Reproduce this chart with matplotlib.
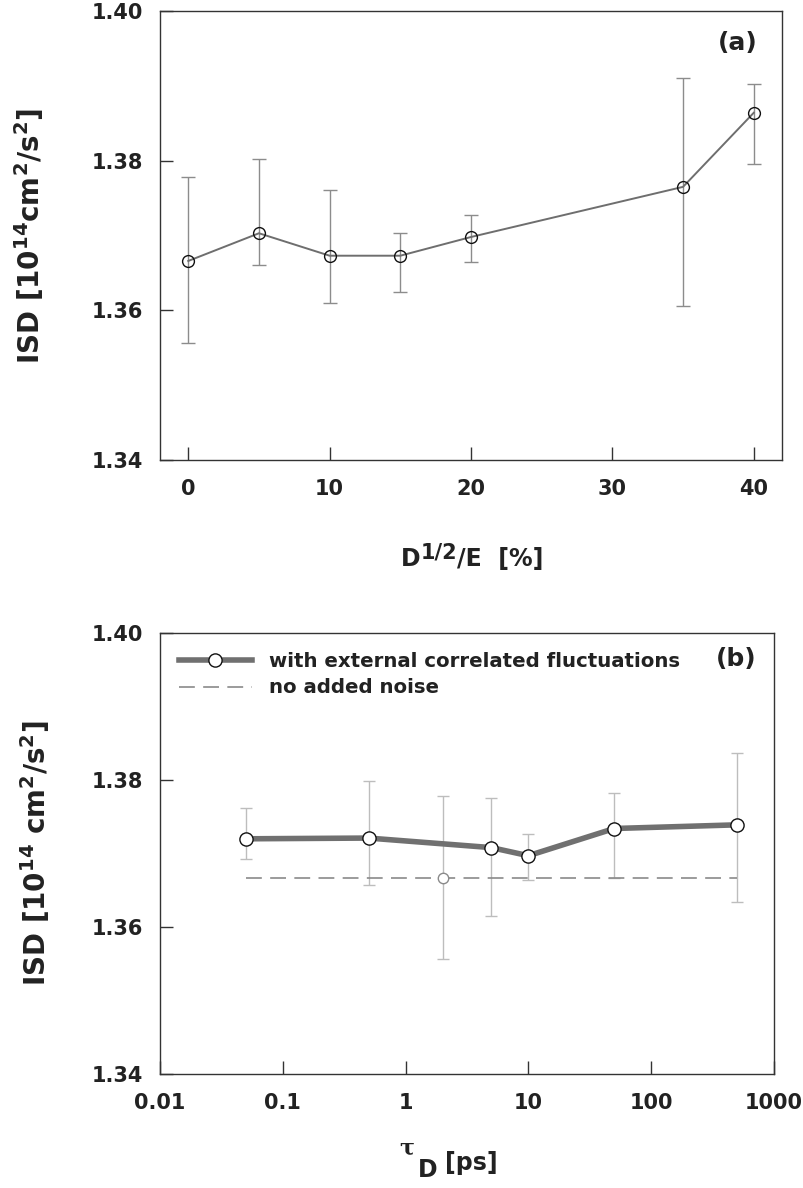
import matplotlib
matplotlib.use("Agg")
import matplotlib.pyplot as plt
import numpy as np

# ---------------- data ----------------
# panel (a)
noise_pct = [0, 5, 10, 15, 20, 35, 40]
isd_a = [1.3666, 1.3703, 1.3673, 1.3673, 1.3698, 1.3765, 1.3864]
isd_a_hi = [1.3778, 1.3802, 1.3761, 1.3704, 1.3727, 1.3911, 1.3902]
isd_a_lo = [1.3557, 1.3660, 1.3610, 1.3625, 1.3664, 1.3606, 1.3795]

# panel (b)
tau_d = [0.05, 0.5, 5, 10, 50, 500]
isd_b = [1.3720, 1.3721, 1.3708, 1.3697, 1.3734, 1.3739]
isd_b_hi = [1.3762, 1.3799, 1.3776, 1.3727, 1.3782, 1.3837]
isd_b_lo = [1.3693, 1.3657, 1.3615, 1.3664, 1.3667, 1.3634]

tau_ref = [2]
isd_ref = [1.3666]
isd_ref_hi = [1.3778]
isd_ref_lo = [1.3556]
ref_span = [0.05, 500]

yticks = [1.34, 1.36, 1.38, 1.40]
xticks_a = [0, 10, 20, 30, 40]
xticks_b = [0.01, 0.1, 1, 10, 100, 1000]
xticklabels_b = ["0.01", "0.1", "1", "10", "100", "1000"]

# ---------------- style ----------------
plt.rcParams["font.family"] = ["DejaVu Sans"]
plt.rcParams["font.weight"] = "bold"
plt.rcParams["mathtext.fontset"] = "custom"
plt.rcParams["mathtext.rm"] = "DejaVu Sans:bold"
plt.rcParams["mathtext.bf"] = "DejaVu Sans:bold"
plt.rcParams["mathtext.it"] = "DejaVu Serif"
plt.rcParams["mathtext.default"] = "rm"

TXT = "#222222"
SPINE = "#333333"

fig = plt.figure(figsize=(8.04, 11.88), dpi=100)
W, H = 804, 1188
renderer = fig.canvas.get_renderer()

def px_axes(l, t, r, b):
    return [l / W, 1 - b / H, (r - l) / W, (b - t) / H]

def text_seq(x0, baseline, pieces):
    """Place pieces of text one after another, in pixel coords."""
    x = x0
    for s, size, dy, fam in pieces:
        t = fig.text(x / W, 1 - (baseline - dy) / H, s, fontsize=size,
                     fontweight="bold" if fam == "DejaVu Sans" else "normal",
                     family=fam, color=TXT, ha="left", va="baseline")
        bb = t.get_window_extent(renderer)
        x += bb.width

ax1 = fig.add_axes(px_axes(160, 11, 782, 460))
ax2 = fig.add_axes(px_axes(160, 633, 774, 1074))

for ax in (ax1, ax2):
    for s in ax.spines.values():
        s.set_color(SPINE)
        s.set_linewidth(1.0)
    ax.tick_params(direction="in", length=9.7, width=1.0, color=SPINE,
                   labelsize=15, labelcolor=TXT, top=False, right=False)
    ax.tick_params(axis="x", pad=14)
    ax.tick_params(axis="y", pad=12)
    ax.set_ylim(1.34, 1.40)
    ax.set_yticks(yticks)
    ax.set_yticklabels([f"{v:.2f}" for v in yticks])
    for lab in ax.get_xticklabels() + ax.get_yticklabels():
        lab.set_fontweight("bold")

# ---------------- panel (a) ----------------
ya = np.array(isd_a)
err_a = [ya - np.array(isd_a_lo), np.array(isd_a_hi) - ya]
ax1.errorbar(noise_pct, isd_a, yerr=err_a, fmt="none", ecolor="#8c8c8c",
             elinewidth=1.0, capsize=5, capthick=1.0, zorder=2)
ax1.plot(noise_pct, isd_a, color="#6e6e6e", lw=1.4, zorder=3)
ax1.plot(noise_pct, isd_a, "o", ms=8.5, mfc="none", mec="#111111", mew=1.0, zorder=4)
ax1.set_xlim(-2, 42)
ax1.set_xticks(xticks_a)
ax1.set_xticklabels([str(v) for v in xticks_a], fontweight="bold")
ax1.text(0.929, 0.929, "(a)", transform=ax1.transAxes, fontsize=18,
         fontweight="bold", color=TXT, ha="center", va="center")

ax1.set_ylabel(r"ISD [10$^{14}$cm$^{2}$/s$^{2}$]", fontsize=20,
               fontweight="bold", color=TXT)
ax1.yaxis.set_label_coords((46 - 160) / 622, 0.5)
text_seq(401, 566, [("D", 17, 0, "DejaVu Sans"),
                    ("1/2", 15, 8, "DejaVu Sans"),
                    ("/E  [%]", 17, 0, "DejaVu Sans")])

# ---------------- panel (b) ----------------
ax2.set_xscale("log")
yb = np.array(isd_b)
err_b = [yb - np.array(isd_b_lo), np.array(isd_b_hi) - yb]
yr = np.array(isd_ref)
err_r = [yr - np.array(isd_ref_lo), np.array(isd_ref_hi) - yr]

ax2.errorbar(tau_d, isd_b, yerr=err_b, fmt="none", ecolor="#bdbdbd",
             elinewidth=1.0, capsize=4, capthick=1.0, zorder=2)
ax2.errorbar(tau_ref, isd_ref, yerr=err_r, fmt="none", ecolor="#bdbdbd",
             elinewidth=1.0, capsize=4, capthick=1.0, zorder=2)
ax2.plot(ref_span, [isd_ref[0]] * 2, color="#8a8a8a", lw=1.2,
         linestyle=(0, (9.5, 5)), zorder=3, label="no added noise")
ax2.plot(tau_ref, isd_ref, "o", ms=7.5, mfc="white", mec="#8a8a8a", mew=1.0, zorder=4)
main_line, = ax2.plot(tau_d, isd_b, "-o", color="#707070", lw=4.0, ms=9.5,
                      mfc="white", mec="#111111", mew=1.0, zorder=5,
                      label="with external correlated fluctuations")
ax2.set_xlim(0.01, 1000)
ax2.set_xticks(xticks_b)
ax2.set_xticklabels(xticklabels_b, fontweight="bold")
ax2.xaxis.set_minor_locator(matplotlib.ticker.NullLocator())

handles, labels = ax2.get_legend_handles_labels()
order = [labels.index("with external correlated fluctuations"), labels.index("no added noise")]
leg = ax2.legend([handles[i] for i in order], [labels[i] for i in order],
                 loc="upper left", bbox_to_anchor=(19 / 614, 0.958),
                 frameon=False, borderpad=0, borderaxespad=0,
                 handlelength=3.7, handletextpad=0.85, labelspacing=0.4,
                 numpoints=1, prop={"size": 14.2, "weight": "bold"})
for t in leg.get_texts():
    t.set_color(TXT)

ax2.text(0.938, 0.941, "(b)", transform=ax2.transAxes, fontsize=18,
         fontweight="bold", color=TXT, ha="center", va="center")

ax2.set_ylabel(r"ISD [10$^{14}$ cm$^{2}$/s$^{2}$]", fontsize=20,
               fontweight="bold", color=TXT)
ax2.yaxis.set_label_coords((52 - 160) / 614, 0.5)
fig.text(407 / W, 1 - 1155 / H, "\u03c4", fontsize=16, family="DejaVu Serif",
         color=TXT, ha="center", va="baseline")
fig.text(418 / W, 1 - 1177 / H, "D", fontsize=17, fontweight="bold",
         color=TXT, ha="left", va="baseline")
fig.text(445 / W, 1 - 1170 / H, "[ps]", fontsize=17, fontweight="bold",
         color=TXT, ha="left", va="baseline")

fig.savefig("out.png", dpi=100)
